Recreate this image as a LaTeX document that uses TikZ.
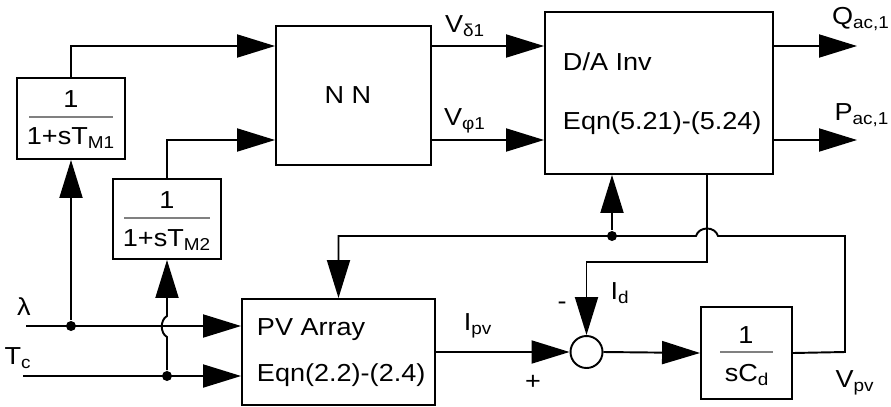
\documentclass[tikz,border=0pt]{standalone}
\usepackage{fontspec}
\setmainfont{Liberation Sans}[FakeStretch=1.1]
\usetikzlibrary{arrows.meta,calc}

\begin{document}
\begin{tikzpicture}[x=0.02cm,y=-0.02cm,>={Triangle[length=7.6mm,width=4.6mm]},line width=1.1pt,
  blk/.style={draw,rectangle,inner sep=0pt},
  lbl/.style={inner sep=0pt,font=\fontsize{14}{16}\selectfont},
  bar/.style={draw=gray,line width=0.6pt},
  jdot/.style={circle,fill,inner sep=0pt,minimum size=2mm}]
\useasboundingbox (0,0) rectangle (891,406);

% blocks
\node[blk,minimum width=2.16cm,minimum height=1.62cm] (tm1) at (71,118.5) {};
\node[blk,minimum width=2.16cm,minimum height=1.6cm] (tm2) at (167,219) {};
\node[blk,minimum width=3.1cm,minimum height=2.78cm] (nn) at (353.5,95.5) {};
\node[blk,minimum width=4.56cm,minimum height=3.24cm] (da) at (659,93) {};
\node[blk,minimum width=3.86cm,minimum height=2.12cm] (pv) at (338.5,352) {};
\node[draw,circle,inner sep=0pt,minimum size=0.64cm] (sum) at (586.5,352) {};
\node[blk,minimum width=1.82cm,minimum height=1.84cm] (cd) at (746.5,353) {};

% texts in blocks
\node[lbl] (tm1n) at (71,99) {1};
\draw[bar] (29,117) -- (113,117);
\node[lbl] (tm1d) at (71,138) {1+sT\textsubscript{M1}};
\node[lbl] (tm2n) at (167,200) {1};
\draw[bar] (124,218) -- (210,218);
\node[lbl] (tm2d) at (167,240) {1+sT\textsubscript{M2}};
\node[lbl] (nnt) at (348,95) {N N};
\node[lbl,anchor=west] (dat) at (562,62) {D/A Inv};
\node[lbl,anchor=west] (dae) at (562,123) {Eqn(5.21)-(5.24)};
\node[lbl,anchor=west] (pvt) at (256,330) {PV Array};
\node[lbl,anchor=west] (pve) at (256,375) {Eqn(2.2)-(2.4)};
\node[lbl] (cdn) at (746,335) {1};
\draw[bar] (720,352) -- (773,352);
\node[lbl] (cdd) at (747,375) {sC\textsubscript{d}};

% inputs
\coordinate (lam) at (26,326);
\coordinate (tc) at (23,376);
\draw[->] (lam) -- (lam -| pv.west);
\draw[->] (tc) -- (tc -| pv.west);
\node[jdot] (dA) at (lam -| tm1.south) {};
\node[jdot] (dB) at (tc -| tm2.south) {};
\draw[->] (dA) -- (tm1.south);
\draw[->] (dB) -- (167,337) .. controls (160,333) and (160,320) .. (167,316) -- (tm2.south);

% filters to NN, NN to D/A
\coordinate (rowA) at (0,46);
\coordinate (rowB) at (0,140);
\draw[->] (tm1.north) |- (nn.west |- rowA);
\draw[->] (tm2.north) |- (nn.west |- rowB);
\draw[->] (nn.east |- rowA) -- (da.west |- rowA);
\draw[->] (nn.east |- rowB) -- (da.west |- rowB);
\coordinate (qac) at (857,46);
\coordinate (pac) at (857,140);
\draw[->] (da.east |- rowA) -- (qac);
\draw[->] (da.east |- rowB) -- (pac);

% dc side
\draw[->] (pv.east) -- (sum.west);
\draw[->] (sum.east) -- (cd.west);
\coordinate (vpv) at (845,352);
\coordinate (fbR) at (845,236);
\coordinate (fbL) at (pv.north |- fbR);
\node[jdot] (dC) at (612,236) {};
\draw[->] (cd.east) -- (vpv) -- (fbR) -- (718,236) .. controls (715,226) and (699,226) .. (696,236) -- (fbL) -- (pv.north);
\draw[->] (dC) -- (dC |- da.south);
\coordinate (idR) at (707,262);
\draw[->] (da.south -| idR) -- (idR) -| (sum.north);

% signal labels
\node[lbl] (lamL) at (24,307) {λ};
\node[lbl] (tcL) at (18,358) {T\textsubscript{c}};
\node[lbl] (vdL) at (465,26) {V\textsubscript{δ1}};
\node[lbl] (vfL) at (465,121) {V\textsubscript{φ1}};
\node[lbl] (qL) at (861,19) {Q\textsubscript{ac,1}};
\node[lbl] (pL) at (862,115) {P\textsubscript{ac,1}};
\node[lbl] (ipvL) at (478,326) {I\textsubscript{pv}};
\node[lbl] (plusL) at (533,382) {+};
\node[lbl] (minL) at (562,306) {-};
\node[lbl] (idL) at (620,293) {I\textsubscript{d}};
\node[lbl] (vpvL) at (855,383) {V\textsubscript{pv}};
\end{tikzpicture}
\end{document}
